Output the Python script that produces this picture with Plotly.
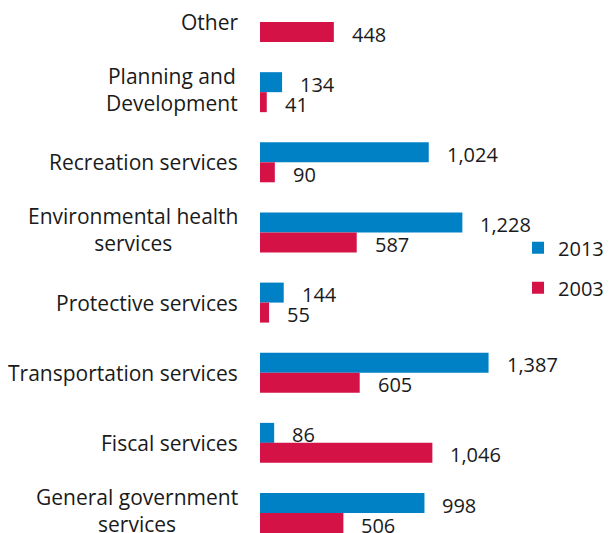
import plotly.graph_objects as go

# Data (bottom to top)
categories = [
    "General government<br>services",
    "Fiscal services",
    "Transportation services",
    "Protective services",
    "Environmental health<br>services",
    "Recreation services",
    "Planning and<br>Development",
    "Other",
]
values_2013 = [998, 86, 1387, 144, 1228, 1024, 134, None]
values_2003 = [506, 1046, 605, 55, 587, 90, 41, 448]
series_names = ["2013", "2003"]

BLUE = "#0081C6"
RED = "#D41245"
FONT = "Open Sans"
TXT = "#1a1a1a"

pos = list(range(len(categories)))
bw = 0.285

fig = go.Figure()
fig.add_trace(go.Bar(
    name=series_names[0], y=pos, x=values_2013, orientation="h",
    width=bw, offset=0, marker=dict(color=BLUE, line=dict(width=0)),
    legendgroup="a",
))
fig.add_trace(go.Bar(
    name=series_names[1], y=pos, x=values_2003, orientation="h",
    width=bw, offset=-bw, marker=dict(color=RED, line=dict(width=0)),
    legendgroup="b",
))

annotations = []
for i, cat in enumerate(categories):
    multi = "<br>" in cat
    annotations.append(dict(
        x=0, xref="paper", y=i, yref="y", text=cat, showarrow=False,
        xanchor="right", yanchor="middle", align="center", xshift=-20,
        yshift=3 if multi else 0,
        font=dict(family=FONT, size=21, color=TXT),
    ))
for vals, off in ((values_2013, bw / 2), (values_2003, -bw / 2)):
    for i, v in enumerate(vals):
        if v is None:
            continue
        annotations.append(dict(
            x=v, xref="x", y=i + off, yref="y", text=f"{v:,}", showarrow=False,
            xanchor="left", yanchor="middle", xshift=16, yshift=-2,
            font=dict(family=FONT, size=20, color=TXT),
        ))

fig.update_layout(
    width=612, height=533,
    margin=dict(l=252, r=8, t=0, b=8),
    paper_bgcolor="white", plot_bgcolor="white",
    barmode="overlay",
    showlegend=True,
    legend=dict(
        x=0.733, xanchor="left", y=0.5805, yanchor="top",
        traceorder="grouped", tracegroupgap=11,
        font=dict(family=FONT, size=20, color=TXT),
        bgcolor="rgba(0,0,0,0)",
    ),
    xaxis=dict(range=[0, 2136], visible=False, fixedrange=True),
    yaxis=dict(range=[-0.285, 7.2], visible=False, fixedrange=True),
    annotations=annotations,
    font=dict(family=FONT, size=20, color=TXT),
)

fig.write_html("out.html")
